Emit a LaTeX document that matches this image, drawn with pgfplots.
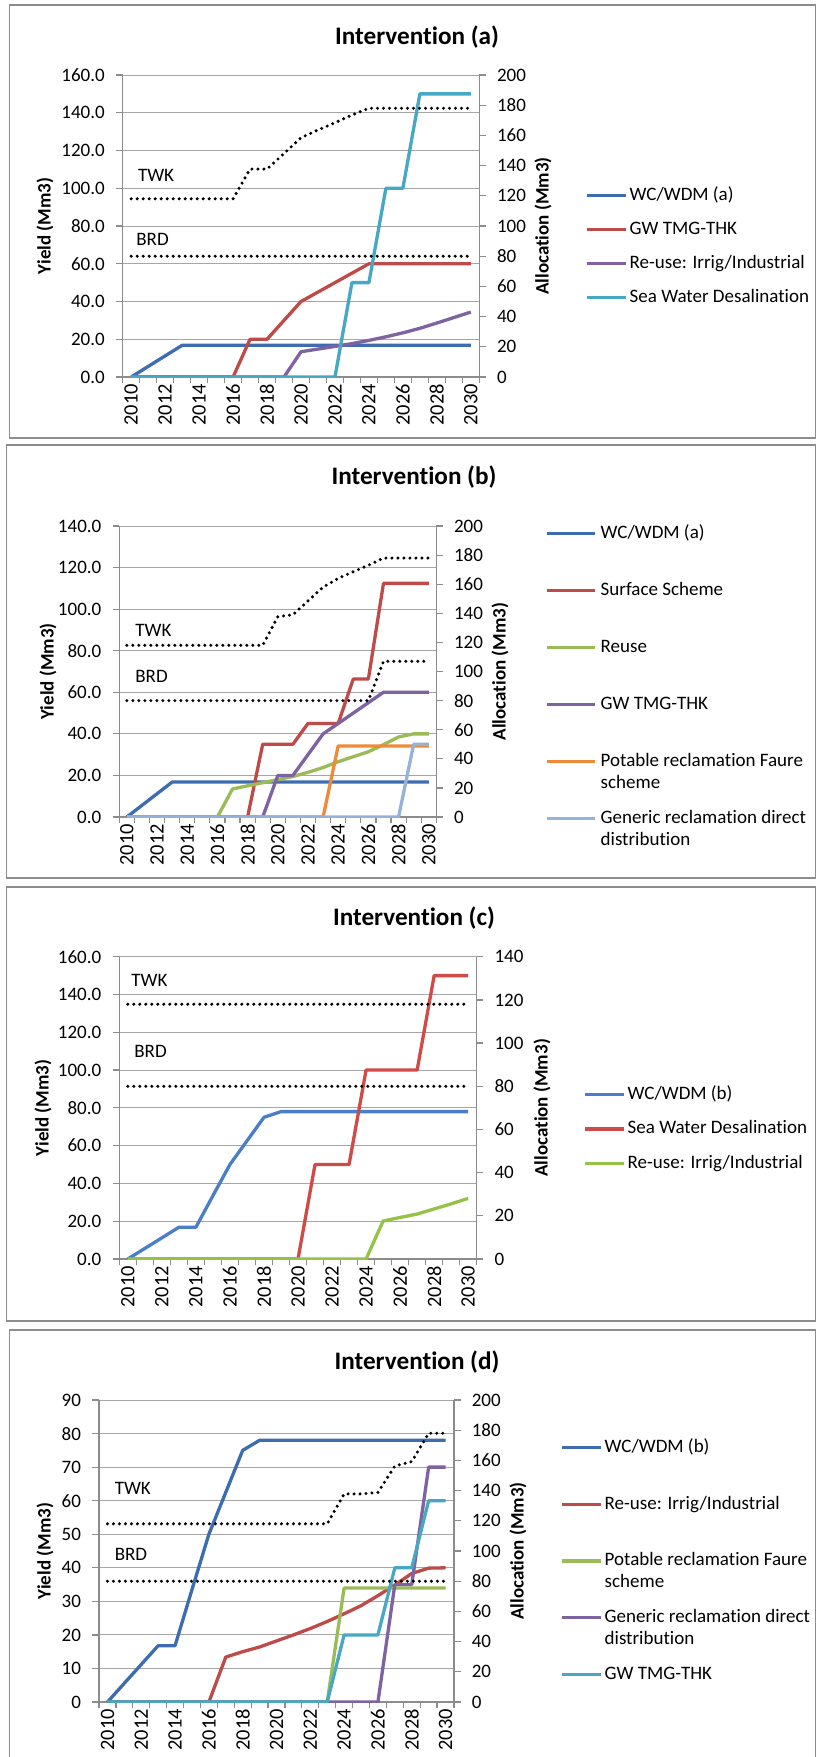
\documentclass[border=0pt]{standalone}
\usepackage{pgfplots}
\pgfplotsset{compat=1.18}
\usepackage{fontspec}
\setmainfont{Carlito}[Ligatures={CommonOff,ContextualOff}, Contextuals=AlternateOff]
\definecolor{cblueA}{HTML}{3D6CB0}
\definecolor{cblueC}{HTML}{4A7FC7}
\definecolor{cred}{HTML}{BE4B48}
\definecolor{credC}{HTML}{D04B48}
\definecolor{cpurple}{HTML}{7F62A1}
\definecolor{cteal}{HTML}{46A8C3}
\definecolor{cgreen}{HTML}{9BBB59}
\definecolor{cgreenC}{HTML}{95C347}
\definecolor{corange}{HTML}{EE8A3A}
\definecolor{clblue}{HTML}{95B3D7}
\definecolor{gridgray}{HTML}{A6A6A6}
\definecolor{axgray}{HTML}{8C8C8C}
\definecolor{framegray}{HTML}{8C8C8C}
\newcommand\tlfont{\fontsize{9.5}{11}\selectfont}
\newcommand\xlfont{\fontsize{10.2}{11}\selectfont}
\newcommand\lbfont{\fontsize{9.5}{11}\selectfont\bfseries}
\newcommand\ttfont{\fontsize{12.6}{14}\selectfont\bfseries}
\newcommand\lgone[1]{\rule[-2pt]{0pt}{9pt}#1}
\newcommand\lgtwo[2]{\rule[-2pt]{0pt}{9pt}\smash{\vtop{\hbox{#1}\hbox{#2}}}}
\pgfplotsset{
  panel/.style={
    scale only axis,
    xmin=2009.5, xmax=2030.5,
    axis line style={-, draw=axgray, line width=0.6pt},
    tick style={draw=axgray, line width=0.6pt},
    tick align=outside,
    major tick length=3.3pt, minor tick length=3pt,
    /pgf/number format/assume math mode=true,
    tick label style={font=\tlfont},
  },
  leftax/.style={panel,
    axis x line*=bottom, axis y line*=left,
    axis line style={-},
    xtick={2010,2012,...,2030},
    minor xtick={2009.5,2010.5,...,2030.5},
    major x tick style={draw=none},
    xticklabel style={rotate=90, anchor=east, inner sep=0pt, font=\xlfont, /pgf/number format/1000 sep={}},
    yticklabel style={inner sep=0pt, anchor=east, xshift=-5.5pt},
    ymajorgrids, grid style={draw=gridgray, line width=0.5pt},
    legend style={draw=none, fill=none, inner sep=0pt, anchor=north west,
      font=\tlfont, nodes={inner sep=0pt, text depth=2pt}, column sep=1pt},
    legend cell align=left,
  },
  rightax/.style={panel,
    axis x line=none, axis y line*=right,
    axis line style={-},
    yticklabel style={inner sep=0pt, anchor=west, xshift=5.4pt},
  },
  ser/.style={line width=1.65pt, line join=round},
  dots/.style={black, line width=1.7pt, line cap=round, dash pattern=on 0pt off 3pt},
}
\begin{document}
\begin{tikzpicture}
\useasboundingbox (0pt,0pt) rectangle (408pt,-878.5pt);
\fill[white] (0pt,0pt) rectangle (408pt,-878.5pt);
\draw[framegray, line width=0.7pt] (4.65pt,-2.5pt) rectangle (407.75pt,-219pt);
\draw[framegray, line width=0.7pt] (3.35pt,-222.5pt) rectangle (407.75pt,-439pt);
\draw[framegray, line width=0.7pt] (3.35pt,-443.5pt) rectangle (407.75pt,-660.5pt);
\draw[framegray, line width=0.7pt] (4.65pt,-665pt) rectangle (407.75pt,-885pt);

% ---------------- Panel (a) ----------------
\node[anchor=base, font=\ttfont, inner sep=0pt] at (208.5pt,-22pt) {Intervention (a)};
\begin{axis}[leftax, at={(61.35pt,-188.5pt)}, width=178.3pt, height=151pt,
  ymin=0, ymax=160, ytick={0,20,...,160},
  yticklabel style={/pgf/number format/fixed, /pgf/number format/fixed zerofill, /pgf/number format/precision=1},
  ylabel={Yield (Mm3)},
  every axis y label/.style={at={(axis description cs:-0.218,0.5)}, rotate=90, anchor=center, font=\lbfont},
  legend style={at={(axis description cs:1.2964,0.6325)}, row sep=8pt},
  legend image code/.code={\draw[#1] (0pt,0pt) -- (19.5pt,0pt);},
]
\addplot[ser, cblueA] coordinates {(2010,0)(2011,5.6)(2012,11.2)(2013,16.8)(2014,16.8)(2015,16.8)(2016,16.8)(2017,16.8)(2018,16.8)(2019,16.8)(2020,16.8)(2021,16.8)(2022,16.8)(2023,16.8)(2024,16.8)(2025,16.8)(2026,16.8)(2027,16.8)(2028,16.8)(2029,16.8)(2030,16.8)};
\addlegendentry{\lgone{WC/WDM (a)}}
\addplot[ser, cred] coordinates {(2010,0)(2011,0)(2012,0)(2013,0)(2014,0)(2015,0)(2016,0)(2017,20)(2018,20)(2019,30)(2020,40)(2021,45)(2022,50)(2023,55)(2024,60)(2025,60)(2026,60)(2027,60)(2028,60)(2029,60)(2030,60)};
\addlegendentry{\lgone{GW TMG-THK}}
\addplot[ser, cpurple] coordinates {(2010,0)(2011,0)(2012,0)(2013,0)(2014,0)(2015,0)(2016,0)(2017,0)(2018,0)(2019,0)(2020,13.4)(2021,14.8)(2022,16.2)(2023,17.7)(2024,19.4)(2025,21.3)(2026,23.4)(2027,25.8)(2028,28.6)(2029,31.5)(2030,34.4)};
\addlegendentry{\lgone{Re-use: Irrig/Industrial}}
\addplot[ser, cteal] coordinates {(2010,0)(2011,0)(2012,0)(2013,0)(2014,0)(2015,0)(2016,0)(2017,0)(2018,0)(2019,0)(2020,0)(2021,0)(2022,0)(2023,50)(2024,50)(2025,100)(2026,100)(2027,150)(2028,150)(2029,150)(2030,150)};
\addlegendentry{\lgone{Sea Water Desalination}}
\end{axis}
\begin{axis}[rightax, at={(61.35pt,-188.5pt)}, width=178.3pt, height=151pt,
  ymin=0, ymax=200, ytick={0,20,...,200},
  ylabel={Allocation (Mm3)},
  every axis y label/.style={at={(axis description cs:1.1786,0.5)}, rotate=90, anchor=center, font=\lbfont},
]
\addplot[dots] coordinates {(2010,118)(2011,118)(2012,118)(2013,118)(2014,118)(2015,118)(2016,118)(2017,137.7)(2018,137.7)(2019,148)(2020,158.5)(2021,163.6)(2022,168.4)(2023,173.5)(2024,178)(2025,178)(2026,178)(2027,178)(2028,178)(2029,178)(2030,178)};
\addplot[dots] coordinates {(2010,80)(2011,80)(2012,80)(2013,80)(2014,80)(2015,80)(2016,80)(2017,80)(2018,80)(2019,80)(2020,80)(2021,80)(2022,80)(2023,80)(2024,80)(2025,80)(2026,80)(2027,80)(2028,80)(2029,80)(2030,80)};
\end{axis}
\node[anchor=base west, font=\tlfont, inner sep=0pt] at (68.8pt,-90.5pt) {TWK};
\node[anchor=base west, font=\tlfont, inner sep=0pt] at (68pt,-122.7pt) {BRD};

% ---------------- Panel (b) ----------------
\node[anchor=base, font=\ttfont, inner sep=0pt] at (207pt,-242pt) {Intervention (b)};
\begin{axis}[leftax, at={(59.65pt,-408.5pt)}, width=158.5pt, height=145.5pt,
  ymin=0, ymax=140, ytick={0,20,...,140},
  yticklabel style={/pgf/number format/fixed, /pgf/number format/fixed zerofill, /pgf/number format/precision=1},
  ylabel={Yield (Mm3)},
  every axis y label/.style={at={(axis description cs:-0.225,0.5)}, rotate=90, anchor=center, font=\lbfont},
  legend style={at={(axis description cs:1.3429,1.0069)}, row sep=19.5pt, column sep=2pt},
  legend image code/.code={\draw[#1] (0pt,0pt) -- (24pt,0pt);},
]
\addplot[ser, cblueA] coordinates {(2010,0)(2011,5.6)(2012,11.2)(2013,16.8)(2014,16.8)(2015,16.8)(2016,16.8)(2017,16.8)(2018,16.8)(2019,16.8)(2020,16.8)(2021,16.8)(2022,16.8)(2023,16.8)(2024,16.8)(2025,16.8)(2026,16.8)(2027,16.8)(2028,16.8)(2029,16.8)(2030,16.8)};
\addlegendentry{\lgone{WC/WDM (a)}}
\addplot[ser, cred] coordinates {(2010,0)(2011,0)(2012,0)(2013,0)(2014,0)(2015,0)(2016,0)(2017,0)(2018,0)(2019,35)(2020,35)(2021,35)(2022,45)(2023,45)(2024,45)(2025,66.4)(2026,66.4)(2027,112.4)(2028,112.4)(2029,112.4)(2030,112.4)};
\addlegendentry{\lgone{Surface Scheme}}
\addplot[ser, cgreen] coordinates {(2010,0)(2011,0)(2012,0)(2013,0)(2014,0)(2015,0)(2016,0)(2017,13.5)(2018,15.0)(2019,16.5)(2020,18.0)(2021,19.5)(2022,21.5)(2023,23.8)(2024,26.6)(2025,29.0)(2026,31.4)(2027,34.8)(2028,38.5)(2029,40)(2030,40)};
\addlegendentry{\lgone{Reuse}}
\addplot[ser, cpurple] coordinates {(2010,0)(2011,0)(2012,0)(2013,0)(2014,0)(2015,0)(2016,0)(2017,0)(2018,0)(2019,0)(2020,20)(2021,20)(2022,30)(2023,40)(2024,45)(2025,50)(2026,55)(2027,60)(2028,60)(2029,60)(2030,60)};
\addlegendentry{\lgone{GW TMG-THK}}
\addplot[ser, corange] coordinates {(2010,0)(2011,0)(2012,0)(2013,0)(2014,0)(2015,0)(2016,0)(2017,0)(2018,0)(2019,0)(2020,0)(2021,0)(2022,0)(2023,0)(2024,34.2)(2025,34.2)(2026,34.2)(2027,34.2)(2028,34.2)(2029,34.2)(2030,34.2)};
\addlegendentry{\lgtwo{Potable reclamation Faure}{scheme}}
\addplot[ser, clblue] coordinates {(2010,0)(2011,0)(2012,0)(2013,0)(2014,0)(2015,0)(2016,0)(2017,0)(2018,0)(2019,0)(2020,0)(2021,0)(2022,0)(2023,0)(2024,0)(2025,0)(2026,0)(2027,0)(2028,0)(2029,35)(2030,35)};
\addlegendentry{\lgtwo{Generic reclamation direct}{distribution}}
\end{axis}
\begin{axis}[rightax, at={(59.65pt,-408.5pt)}, width=158.5pt, height=145.5pt,
  ymin=0, ymax=200, ytick={0,20,...,200},
  ylabel={Allocation (Mm3)},
  every axis y label/.style={at={(axis description cs:1.201,0.5)}, rotate=90, anchor=center, font=\lbfont},
]
\addplot[dots] coordinates {(2010,118)(2011,118)(2012,118)(2013,118)(2014,118)(2015,118)(2016,118)(2017,118)(2018,118)(2019,118)(2020,137.7)(2021,139)(2022,148.5)(2023,158)(2024,164)(2025,168.6)(2026,173)(2027,178)(2028,178)(2029,178)(2030,178)};
\addplot[dots] coordinates {(2010,80)(2011,80)(2012,80)(2013,80)(2014,80)(2015,80)(2016,80)(2017,80)(2018,80)(2019,80)(2020,80)(2021,80)(2022,80)(2023,80)(2024,80)(2025,80)(2026,80)(2027,107)(2028,107)(2029,107)(2030,107)};
\end{axis}
\node[anchor=base west, font=\tlfont, inner sep=0pt] at (67.5pt,-318pt) {TWK};
\node[anchor=base west, font=\tlfont, inner sep=0pt] at (67.5pt,-341.2pt) {BRD};

% ---------------- Panel (c) ----------------
\node[anchor=base, font=\ttfont, inner sep=0pt] at (207pt,-462.8pt) {Intervention (c)};
\begin{axis}[leftax, at={(59.65pt,-629.5pt)}, width=178.7pt, height=151.15pt,
  ymin=0, ymax=160, ytick={0,20,...,160},
  yticklabel style={/pgf/number format/fixed, /pgf/number format/fixed zerofill, /pgf/number format/precision=1},
  ylabel={Yield (Mm3)},
  every axis y label/.style={at={(axis description cs:-0.2135,0.5)}, rotate=90, anchor=center, font=\lbfont},
  legend style={at={(axis description cs:1.2974,0.5756)}, row sep=8.25pt},
  legend image code/.code={\draw[#1] (0pt,0pt) -- (19.5pt,0pt);},
]
\addplot[ser, cblueC] coordinates {(2010,0)(2011,5.6)(2012,11.2)(2013,16.8)(2014,16.8)(2015,33.5)(2016,50)(2017,62.5)(2018,75)(2019,78)(2020,78)(2021,78)(2022,78)(2023,78)(2024,78)(2025,78)(2026,78)(2027,78)(2028,78)(2029,78)(2030,78)};
\addlegendentry{\lgone{WC/WDM (b)}}
\addplot[ser, credC] coordinates {(2010,0)(2011,0)(2012,0)(2013,0)(2014,0)(2015,0)(2016,0)(2017,0)(2018,0)(2019,0)(2020,0)(2021,50)(2022,50)(2023,50)(2024,100)(2025,100)(2026,100)(2027,100)(2028,150)(2029,150)(2030,150)};
\addlegendentry{\lgone{Sea Water Desalination}}
\addplot[ser, cgreenC] coordinates {(2010,0)(2011,0)(2012,0)(2013,0)(2014,0)(2015,0)(2016,0)(2017,0)(2018,0)(2019,0)(2020,0)(2021,0)(2022,0)(2023,0)(2024,0)(2025,20.1)(2026,22)(2027,23.8)(2028,26.5)(2029,29.2)(2030,32.1)};
\addlegendentry{\lgone{Re-use: Irrig/Industrial}}
\end{axis}
\begin{axis}[rightax, at={(59.65pt,-629.5pt)}, width=178.7pt, height=151.15pt,
  ymin=0, ymax=140, ytick={0,20,...,140},
  ylabel={Allocation (Mm3)},
  every axis y label/.style={at={(axis description cs:1.183,0.5)}, rotate=90, anchor=center, font=\lbfont},
]
\addplot[dots] coordinates {(2010,118)(2011,118)(2012,118)(2013,118)(2014,118)(2015,118)(2016,118)(2017,118)(2018,118)(2019,118)(2020,118)(2021,118)(2022,118)(2023,118)(2024,118)(2025,118)(2026,118)(2027,118)(2028,118)(2029,118)(2030,118)};
\addplot[dots] coordinates {(2010,80)(2011,80)(2012,80)(2013,80)(2014,80)(2015,80)(2016,80)(2017,80)(2018,80)(2019,80)(2020,80)(2021,80)(2022,80)(2023,80)(2024,80)(2025,80)(2026,80)(2027,80)(2028,80)(2029,80)(2030,80)};
\end{axis}
\node[anchor=base west, font=\tlfont, inner sep=0pt] at (65.5pt,-493.3pt) {TWK};
\node[anchor=base west, font=\tlfont, inner sep=0pt] at (67pt,-528.7pt) {BRD};

% ---------------- Panel (d) ----------------
\node[anchor=base, font=\ttfont, inner sep=0pt] at (208.5pt,-684.5pt) {Intervention (d)};
\begin{axis}[leftax, at={(49.5pt,-851pt)}, width=177.5pt, height=151pt,
  ymin=0, ymax=90, ytick={0,10,...,90},
  ylabel={Yield (Mm3)},
  every axis y label/.style={at={(axis description cs:-0.152,0.5)}, rotate=90, anchor=center, font=\lbfont},
  legend style={at={(axis description cs:1.2986,0.8742)}, row sep=19.375pt},
  legend image code/.code={\draw[#1] (0pt,0pt) -- (19.5pt,0pt);},
]
\addplot[ser, cblueA] coordinates {(2010,0)(2011,5.6)(2012,11.2)(2013,16.8)(2014,16.8)(2015,33.5)(2016,50)(2017,62.5)(2018,75)(2019,78)(2020,78)(2021,78)(2022,78)(2023,78)(2024,78)(2025,78)(2026,78)(2027,78)(2028,78)(2029,78)(2030,78)};
\addlegendentry{\lgone{WC/WDM (b)}}
\addplot[ser, cred] coordinates {(2010,0)(2011,0)(2012,0)(2013,0)(2014,0)(2015,0)(2016,0)(2017,13.4)(2018,15)(2019,16.4)(2020,18.2)(2021,20)(2022,21.9)(2023,24)(2024,26.3)(2025,28.7)(2026,31.7)(2027,34.9)(2028,38.3)(2029,39.9)(2030,40)};
\addlegendentry{\lgone{Re-use: Irrig/Industrial}}
\addplot[ser, cgreen] coordinates {(2010,0)(2011,0)(2012,0)(2013,0)(2014,0)(2015,0)(2016,0)(2017,0)(2018,0)(2019,0)(2020,0)(2021,0)(2022,0)(2023,0)(2024,34)(2025,34)(2026,34)(2027,34)(2028,34)(2029,34)(2030,34)};
\addlegendentry{\lgtwo{Potable reclamation Faure}{scheme}}
\addplot[ser, cpurple] coordinates {(2010,0)(2011,0)(2012,0)(2013,0)(2014,0)(2015,0)(2016,0)(2017,0)(2018,0)(2019,0)(2020,0)(2021,0)(2022,0)(2023,0)(2024,0)(2025,0)(2026,0)(2027,35)(2028,35)(2029,70)(2030,70)};
\addlegendentry{\lgtwo{Generic reclamation direct}{distribution}}
\addplot[ser, cteal] coordinates {(2010,0)(2011,0)(2012,0)(2013,0)(2014,0)(2015,0)(2016,0)(2017,0)(2018,0)(2019,0)(2020,0)(2021,0)(2022,0)(2023,0)(2024,20)(2025,20)(2026,20)(2027,40)(2028,40)(2029,60)(2030,60)};
\addlegendentry{\lgone{GW TMG-THK}}
\end{axis}
\begin{axis}[rightax, at={(49.5pt,-851pt)}, width=177.5pt, height=151pt,
  ymin=0, ymax=200, ytick={0,20,...,200},
  ylabel={Allocation (Mm3)},
  every axis y label/.style={at={(axis description cs:1.180,0.5)}, rotate=90, anchor=center, font=\lbfont},
]
\addplot[dots] coordinates {(2010,118)(2011,118)(2012,118)(2013,118)(2014,118)(2015,118)(2016,118)(2017,118)(2018,118)(2019,118)(2020,118)(2021,118)(2022,118)(2023,118)(2024,137.8)(2025,137.8)(2026,138.8)(2027,156.3)(2028,159.2)(2029,178)(2030,178)};
\addplot[dots] coordinates {(2010,80)(2011,80)(2012,80)(2013,80)(2014,80)(2015,80)(2016,80)(2017,80)(2018,80)(2019,80)(2020,80)(2021,80)(2022,80)(2023,80)(2024,80)(2025,80)(2026,80)(2027,80)(2028,80)(2029,80)(2030,80)};
\end{axis}
\node[anchor=base west, font=\tlfont, inner sep=0pt] at (57.2pt,-747pt) {TWK};
\node[anchor=base west, font=\tlfont, inner sep=0pt] at (57.2pt,-780pt) {BRD};
\end{tikzpicture}
\end{document}
